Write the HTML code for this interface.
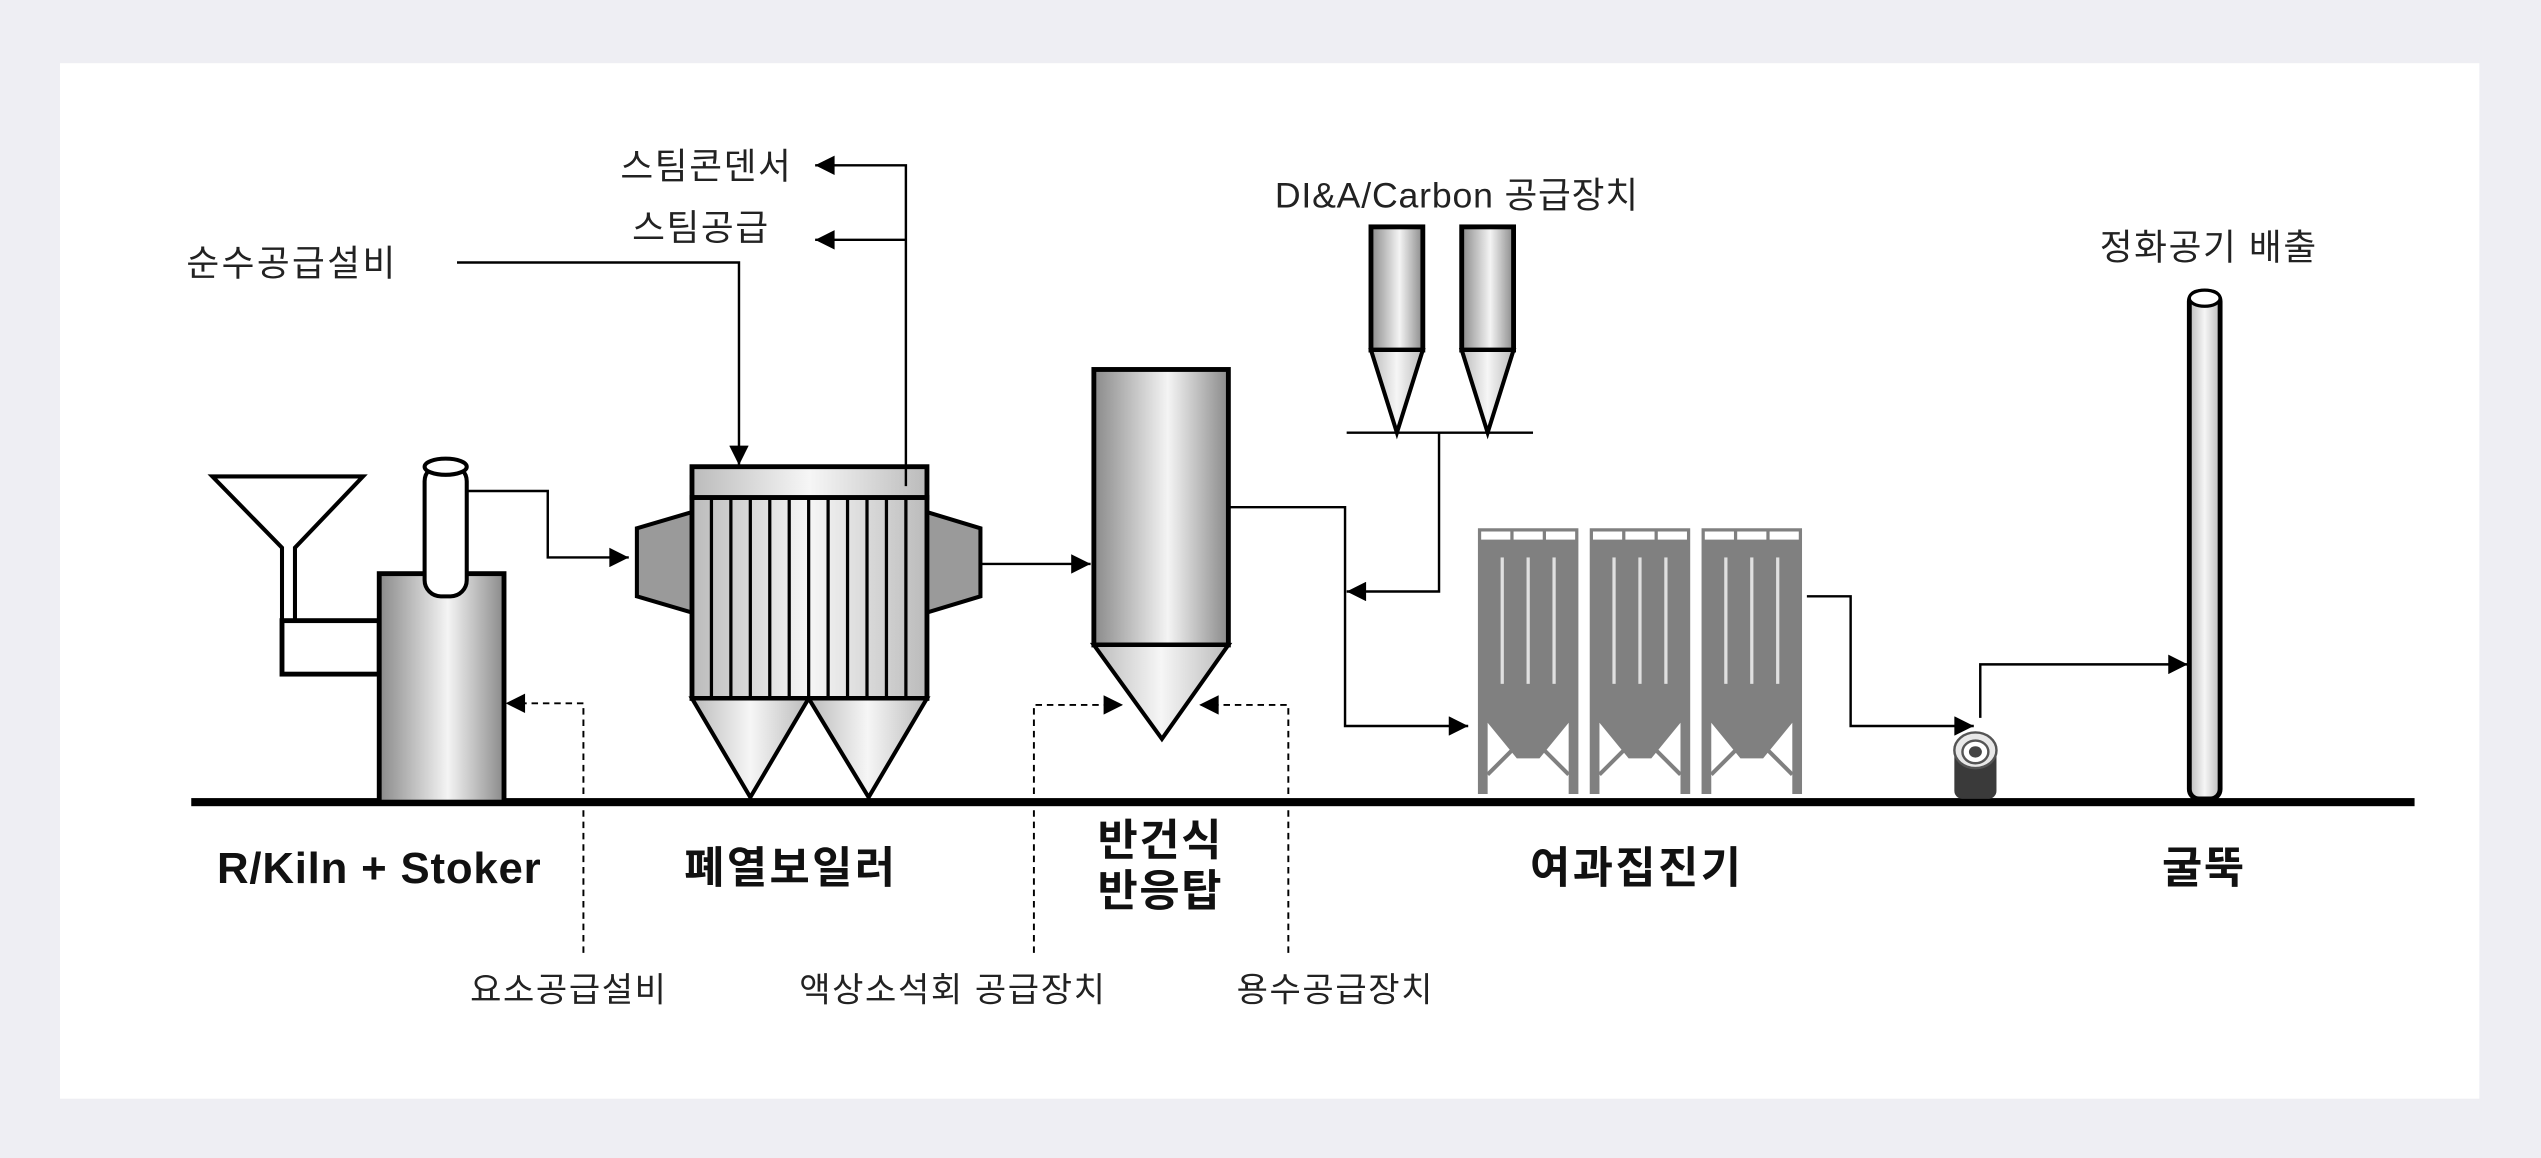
<!DOCTYPE html>
<html><head><meta charset="utf-8"><style>
html,body{margin:0;padding:0;background:#eeeef3;}
svg{display:block;}
text{font-family:"Liberation Sans","Noto Sans CJK KR",sans-serif;fill:#222;}
</style></head><body>
<svg width="2541" height="1158" viewBox="0 0 1568 714.6" xmlns="http://www.w3.org/2000/svg">
<defs>
<linearGradient id="g" x1="0" x2="1" y1="0" y2="0">
<stop offset="0" stop-color="#8a8a8a"/><stop offset="0.55" stop-color="#f4f4f4"/><stop offset="1" stop-color="#8a8a8a"/>
</linearGradient>
<linearGradient id="gv" x1="0" x2="1" y1="0" y2="0">
<stop offset="0" stop-color="#bbb"/><stop offset="0.5" stop-color="#f6f6f6"/><stop offset="1" stop-color="#bbb"/>
</linearGradient>
<marker id="b" viewBox="0 0 10 10" refX="10" refY="5" markerWidth="14" markerHeight="12" markerUnits="userSpaceOnUse" orient="auto"><path d="M0,0 L10,5 L0,10 z" fill="#000"/></marker>
<g id="bf">
<path d="M0,0 L62,0 L62,164 L56,164 L56,120 L38,142 L24,142 L6,120 L6,164 L0,164 Z" fill="#808080"/>
<rect x="2" y="2" width="18" height="5" fill="#fff"/><rect x="22" y="2" width="18" height="5" fill="#fff"/><rect x="42" y="2" width="18" height="5" fill="#fff"/>
<rect x="14" y="18" width="2" height="78" fill="#e0e0e0"/><rect x="30" y="18" width="2" height="78" fill="#e0e0e0"/><rect x="46" y="18" width="2" height="78" fill="#e0e0e0"/>
<line x1="6" y1="152" x2="22" y2="136" stroke="#808080" stroke-width="2.5"/><line x1="56" y1="152" x2="40" y2="136" stroke="#808080" stroke-width="2.5"/>
</g>
</defs>
<rect x="37" y="39" width="1493" height="639" fill="#fff"/>

<rect x="118" y="492.5" width="1372" height="5" fill="#000"/>

<path d="M131,294 L224,294 L182,338 L182,385 L174,385 L174,338 Z" fill="#fff" stroke="#000" stroke-width="2.5"/>
<rect x="174" y="383" width="60" height="33" fill="#fff" stroke="#000" stroke-width="3"/>
<rect x="234" y="354" width="77" height="141" fill="url(#g)" stroke="#000" stroke-width="3"/>
<rect x="262" y="287" width="26" height="81" rx="10" fill="#fff" stroke="#000" stroke-width="2.5"/>
<ellipse cx="275" cy="288" rx="13" ry="5" fill="#fff" stroke="#000" stroke-width="2.5"/>
<polyline points="288,303 338,303 338,344 388,344" fill="none" stroke="#000" stroke-width="1.5" marker-end="url(#b)"/>

<polygon points="427,316 393,326 393,368 427,378" fill="#9a9a9a" stroke="#000" stroke-width="2.5"/>
<polygon points="572,316 605,326 605,368 572,378" fill="#9a9a9a" stroke="#000" stroke-width="2.5"/>
<rect x="427" y="307" width="145" height="124" fill="url(#gv)" stroke="#000" stroke-width="3"/>
<g stroke="#000" stroke-width="2">
<line x1="439" y1="307" x2="439" y2="431"/><line x1="451" y1="307" x2="451" y2="431"/><line x1="463" y1="307" x2="463" y2="431"/><line x1="475" y1="307" x2="475" y2="431"/><line x1="487" y1="307" x2="487" y2="431"/><line x1="499" y1="307" x2="499" y2="431"/><line x1="511" y1="307" x2="511" y2="431"/><line x1="523" y1="307" x2="523" y2="431"/><line x1="535" y1="307" x2="535" y2="431"/><line x1="547" y1="307" x2="547" y2="431"/><line x1="559" y1="307" x2="559" y2="431"/>
</g>
<rect x="427" y="288" width="145" height="19" fill="url(#gv)" stroke="#000" stroke-width="3"/>
<polygon points="427,431 499,431 463,492" fill="url(#gv)" stroke="#000" stroke-width="2.5"/>
<polygon points="499,431 572,431 536,492" fill="url(#gv)" stroke="#000" stroke-width="2.5"/>
<text x="115" y="170" font-size="22" letter-spacing="1.5">순수공급설비</text>
<polyline points="282,162 456,162 456,287" fill="none" stroke="#000" stroke-width="1.5" marker-end="url(#b)"/>
<polyline points="559,300 559,102 503,102" fill="none" stroke="#000" stroke-width="1.5" marker-end="url(#b)"/>
<polyline points="559,148 503,148" fill="none" stroke="#000" stroke-width="1.5" marker-end="url(#b)"/>
<text x="489" y="110" font-size="22" text-anchor="end" letter-spacing="1">스팀콘덴서</text>
<text x="475" y="148" font-size="22" text-anchor="end" letter-spacing="1">스팀공급</text>
<line x1="605" y1="348" x2="673" y2="348" stroke="#000" stroke-width="1.5" marker-end="url(#b)"/>

<rect x="675" y="228" width="83" height="170" fill="url(#g)" stroke="#000" stroke-width="3"/>
<polygon points="675,398 758,398 717,456" fill="url(#gv)" stroke="#000" stroke-width="2.5"/>
<polyline points="638,588 638,435 693,435" fill="none" stroke="#000" stroke-width="1.2" stroke-dasharray="4,3" marker-end="url(#b)"/>
<polyline points="795,588 795,435 740,435" fill="none" stroke="#000" stroke-width="1.2" stroke-dasharray="4,3" marker-end="url(#b)"/>
<polyline points="360,588 360,434 312,434" fill="none" stroke="#000" stroke-width="1.2" stroke-dasharray="4,3" marker-end="url(#b)"/>
<polyline points="758,313 830,313 830,448 906,448" fill="none" stroke="#000" stroke-width="1.5" marker-end="url(#b)"/>

<text x="899" y="128" font-size="22" text-anchor="middle" letter-spacing="0.5">DI&amp;A/Carbon 공급장치</text>
<rect x="846" y="140" width="32" height="76" fill="url(#g)" stroke="#000" stroke-width="3"/>
<polygon points="846,216 878,216 862,267" fill="url(#gv)" stroke="#000" stroke-width="2.5"/>
<rect x="902" y="140" width="32" height="76" fill="url(#g)" stroke="#000" stroke-width="3"/>
<polygon points="902,216 934,216 918,267" fill="url(#gv)" stroke="#000" stroke-width="2.5"/>
<line x1="831" y1="267" x2="946" y2="267" stroke="#000" stroke-width="1.5"/>
<polyline points="888,267 888,365 831,365" fill="none" stroke="#000" stroke-width="1.5" marker-end="url(#b)"/>

<use href="#bf" x="912" y="326"/>
<use href="#bf" x="981" y="326"/>
<use href="#bf" x="1050" y="326"/>
<polyline points="1115,368 1142,368 1142,448 1218,448" fill="none" stroke="#000" stroke-width="1.5" marker-end="url(#b)"/>

<rect x="1206" y="458" width="26" height="35" rx="5" fill="#3a3a3a"/>
<ellipse cx="1219" cy="463" rx="13" ry="11" fill="#e8e8e8" stroke="#555" stroke-width="1.5"/>
<ellipse cx="1219" cy="464" rx="8" ry="7" fill="#fff" stroke="#555" stroke-width="1.5"/>
<ellipse cx="1219" cy="464" rx="4" ry="3.5" fill="#444"/>
<polyline points="1222,443 1222,410 1350,410" fill="none" stroke="#000" stroke-width="1.5" marker-end="url(#b)"/>

<rect x="1351" y="180" width="19" height="313" rx="6" fill="url(#gv)" stroke="#000" stroke-width="3"/>
<ellipse cx="1360.5" cy="184" rx="9.5" ry="5" fill="#fff" stroke="#000" stroke-width="2"/>
<text x="1363" y="160" font-size="22" text-anchor="middle" letter-spacing="1">정화공기 배출</text>

<g font-weight="bold" font-size="27" text-anchor="middle">
<text x="234" y="545" style="fill:#111" letter-spacing="0.5">R/Kiln + Stoker</text>
<text x="488" y="545" style="fill:#111" letter-spacing="1.5">폐열보일러</text>
<text x="716" y="528" style="fill:#111" letter-spacing="1">반건식</text>
<text x="716" y="559" style="fill:#111" letter-spacing="1">반응탑</text>
<text x="1010" y="545" style="fill:#111" letter-spacing="1.5">여과집진기</text>
<text x="1360" y="545" style="fill:#111" letter-spacing="1">굴뚝</text>
</g>
<g font-size="21" text-anchor="middle" letter-spacing="1">
<text x="351" y="618">요소공급설비</text>
<text x="588" y="618">액상소석회 공급장치</text>
<text x="824" y="618">용수공급장치</text>
</g>
</svg>
</body></html>
